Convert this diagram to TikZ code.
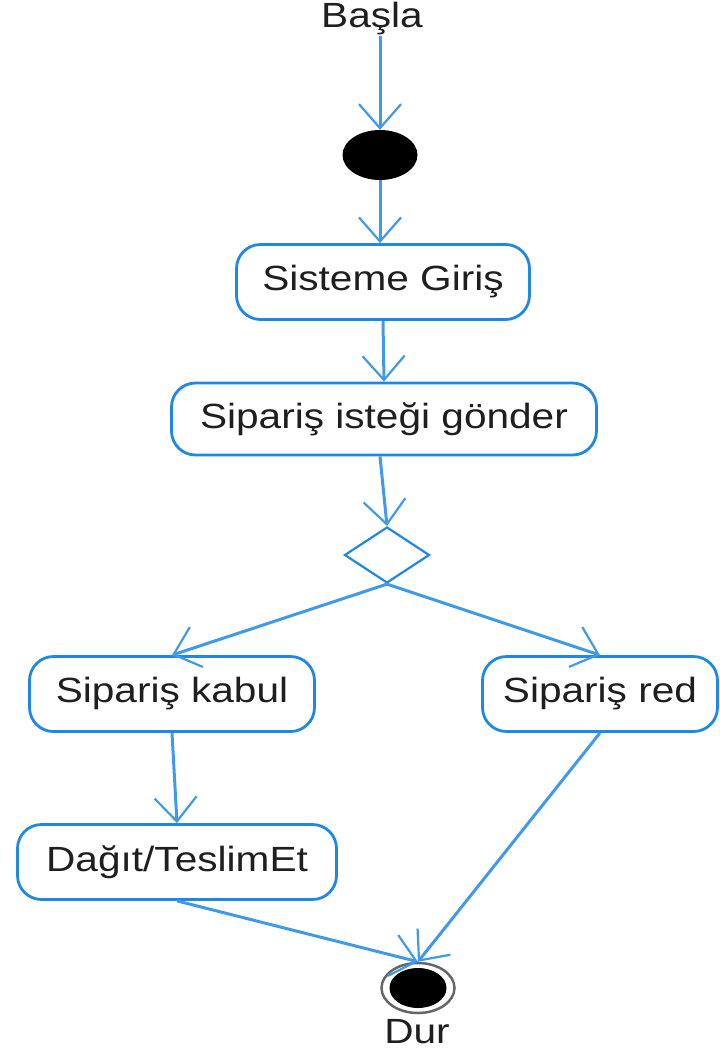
\documentclass[tikz,border=0pt]{standalone}
\usepackage{fontspec}
\setmainfont{Liberation Sans}[FakeStretch=1.16]
\usetikzlibrary{shapes.geometric,arrows.meta}
\definecolor{umlblue}{RGB}{30,136,229}
\tikzset{
	act/.style={draw=umlblue, line width=2.8pt, rounded corners=24pt, inner sep=0pt,
		minimum height=75pt, text=black!88, font=\fontsize{35}{42}\selectfont},
	etiket/.style={inner sep=0pt, text=black!88, font=\fontsize{35}{42}\selectfont},
	startdot/.style={ellipse, fill=black, inner sep=0pt, minimum width=75pt, minimum height=50pt},
	enddot/.style={ellipse, draw=black!60, line width=2.5pt, fill=white, inner sep=0pt,
		minimum width=73pt, minimum height=50pt},
	endcore/.style={ellipse, fill=black, inner sep=0pt, minimum width=57pt, minimum height=40pt},
	karar/.style={diamond, draw=umlblue, line width=2.2pt, inner sep=0pt,
		minimum width=85pt, minimum height=56pt},
	flow/.style={draw=umlblue!85, line width=3pt,
		-{Straight Barb[length=24pt,width=42pt,line width=2.2pt]}}
}
\begin{document}
\begin{tikzpicture}[x=1pt,y=-1pt]
\useasboundingbox (0,0) rectangle (720,1053);
\path (372,19) node[etiket] (basla) {Başla}
		(380,155) node[startdot] (start) {}
		(383,282) node[act,minimum width=293pt] (giris) {Sisteme Giriş}
		(384,419) node[act,minimum width=425pt,minimum height=72pt] (istek) {Sipariş isteği gönder}
		(387,555) node[karar] (secim) {}
		(172,694) node[act,minimum width=285pt] (kabul) {Sipariş kabul}
		(600,694) node[act,minimum width=235pt] (red) {Sipariş red}
		(177,862) node[act,minimum width=319pt] (dagit) {Dağıt/TeslimEt}
		(418,988) node[enddot] (dur) {}
		(418,988) node[endcore] (durc) {}
		(417,1032) node[etiket] (durtxt) {Dur};

\draw[flow] (basla.south -| start.north) -- (start.north);
\draw[flow] (start.south) -- (start.south |- giris.north);
\draw[flow] (giris.south) -- (istek.north);
\draw[flow] (istek.south -| start) -- (secim.north);
\draw[flow] (secim.south) -- (kabul.north);
\draw[flow] (secim.south) -- (red.north);
\draw[flow] (kabul.south) -- (dagit.north);
\draw[flow] (dagit.south) -- (dur.north);
\draw[flow] (red.south) -- (dur.north);
\end{tikzpicture}
\end{document}
